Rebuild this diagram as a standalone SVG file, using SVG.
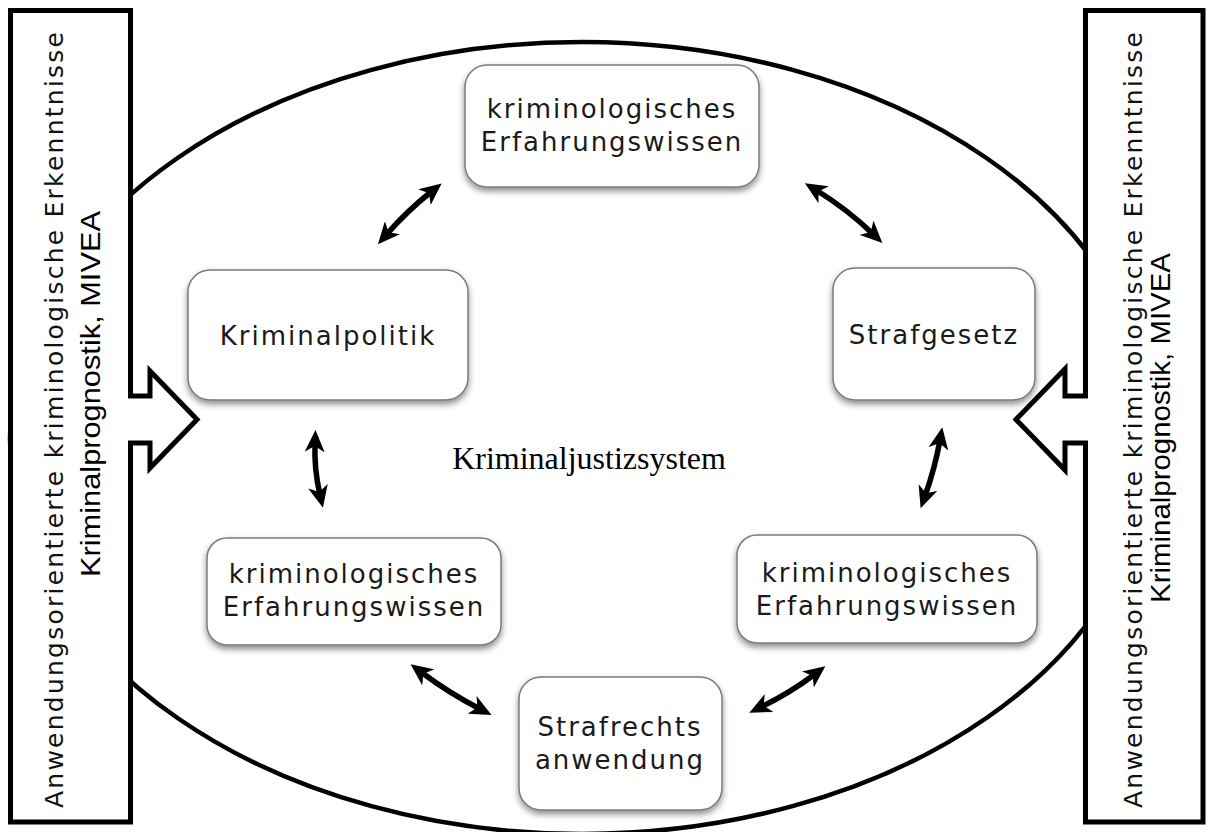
<svg xmlns="http://www.w3.org/2000/svg" width="1210" height="832" viewBox="0 0 1210 832">
<style>
.frame{fill:#fff;stroke:#000;stroke-width:5;stroke-linejoin:miter}
.ell{fill:none;stroke:#000;stroke-width:4.5}
.node{fill:#fff;stroke:#7a7a7a;stroke-width:1.5;filter:url(#sh)}
.nt{font-family:"DejaVu Sans","Verdana",sans-serif;font-size:26px;letter-spacing:2px;fill:#1a1a1a;text-anchor:middle}
.side1{font-family:"DejaVu Sans",sans-serif;font-size:25px;fill:#111;text-anchor:middle}
.side2{font-family:"Liberation Sans","Arial",sans-serif;font-size:28px;fill:#000;text-anchor:middle}
.ctr{font-family:"Liberation Serif","Times New Roman",serif;font-size:32px;fill:#000;text-anchor:middle}
.con{fill:none;stroke:#000;stroke-width:5.5;marker-start:url(#ah);marker-end:url(#ah)}
</style>
<defs>
<filter id="sh" x="-10%" y="-10%" width="120%" height="135%">
<feDropShadow dx="0" dy="3.5" stdDeviation="3" flood-color="#000" flood-opacity="0.45"/>
</filter>
<marker id="ah" viewBox="0 0 22 20" markerWidth="22" markerHeight="20" refX="9" refY="10" orient="auto-start-reverse" markerUnits="userSpaceOnUse">
<path d="M0,0 L22,10 L0,20 L6,10 Z" fill="#000"/>
</marker>
</defs>
<rect width="1210" height="832" fill="#fff"/>
<ellipse class="ell" cx="582" cy="438" rx="572" ry="396"/>
<g id="left-panel">
<path class="frame" d="M10.5,10.5 H130.5 V396 H150 V371 L197,419.5 L150,468 V443 H130.5 V822 H10.5 Z"/>
<text class="side1" transform="translate(63,420) rotate(-90)" textLength="776" lengthAdjust="spacing">Anwendungsorientierte kriminologische Erkenntnisse</text>
<text class="side2" transform="translate(100,394) rotate(-90)" textLength="366" lengthAdjust="spacingAndGlyphs">Kriminalprognostik, MIVEA</text>
</g>
<g id="right-panel">
<path class="frame" d="M1203,10.5 H1085.5 V396 H1065 V369 L1016,419.5 L1065,470 V443 H1085.5 V822 H1203 Z"/>
<text class="side1" transform="translate(1142,420) rotate(-90)" textLength="776" lengthAdjust="spacing">Anwendungsorientierte kriminologische Erkenntnisse</text>
<text class="side2" transform="translate(1170,428) rotate(-90)" textLength="350" lengthAdjust="spacingAndGlyphs">Kriminalprognostik, MIVEA</text>
</g>
<text id="center-label" class="ctr" x="589" y="469">Kriminaljustizsystem</text>
<g id="connectors">
<path class="con" d="M386.5,234.5 Q407,211 431.5,191.5"/>
<path class="con" d="M816,190 Q847,209 873,234"/>
<path class="con" d="M315,443 Q314,469 320,495"/>
<path class="con" d="M940,440 Q935,468 925,496"/>
<path class="con" d="M421,672 Q449,693 480,709"/>
<path class="con" d="M815,674 Q790,693 761,707"/>
</g>
<g id="node-top">
<rect class="node" x="465" y="65" width="294" height="122" rx="22"/>
<text class="nt" x="612" y="118">kriminologisches</text>
<text class="nt" x="612" y="151">Erfahrungswissen</text>
</g>
<g id="node-kriminalpolitik">
<rect class="node" x="188" y="270" width="280" height="130" rx="22"/>
<text class="nt" x="328" y="345">Kriminalpolitik</text>
</g>
<g id="node-strafgesetz">
<rect class="node" x="833" y="268" width="202" height="132" rx="22"/>
<text class="nt" x="934" y="344">Strafgesetz</text>
</g>
<g id="node-bottom-left">
<rect class="node" x="207" y="538" width="294" height="107" rx="20"/>
<text class="nt" x="354" y="583">kriminologisches</text>
<text class="nt" x="354" y="616">Erfahrungswissen</text>
</g>
<g id="node-bottom-right">
<rect class="node" x="737" y="535" width="300" height="108" rx="20"/>
<text class="nt" x="887" y="582">kriminologisches</text>
<text class="nt" x="887" y="615">Erfahrungswissen</text>
</g>
<g id="node-strafrechts">
<rect class="node" x="519" y="677" width="203" height="133" rx="22"/>
<text class="nt" x="620" y="736">Strafrechts</text>
<text class="nt" x="620" y="769">anwendung</text>
</g>
</svg>
